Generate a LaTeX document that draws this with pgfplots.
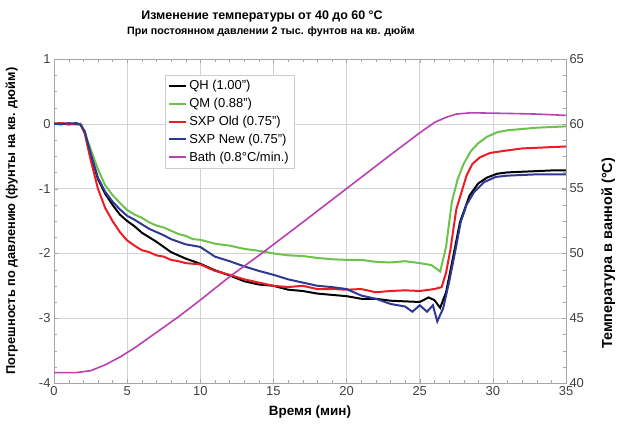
\documentclass[border=0pt]{standalone}
\usepackage{pgfplots}
\pgfplotsset{compat=1.18}
\usepackage{fontspec}
\setmainfont{Liberation Sans}
\definecolor{cqh}{RGB}{0,0,0}
\definecolor{cqm}{RGB}{108,194,74}
\definecolor{cold}{RGB}{237,28,36}
\definecolor{cnew}{RGB}{46,57,150}
\definecolor{cbath}{RGB}{185,64,176}
\begin{document}
\begin{tikzpicture}
\begin{axis}[name=main, scale only axis, width=512bp, height=324bp,
  xmin=0, xmax=35, ymin=-4, ymax=1,
  xtick={0,5,...,35}, ytick={-4,-3,...,1},
  minor x tick num=4, minor y tick num=3,
  grid=major, major grid style={gray!35, line width=0.6pt},
  axis line style={gray!70}, tick style={gray!70}, tick align=inside,
  major tick length=4bp, minor tick length=3bp,
  /pgf/number format/assume math mode=true,
  ticklabel style={font=\fontsize{13}{15}\selectfont, text=black!75},
  xlabel={\bfseries Время (мин)}, ylabel={\bfseries Погрешность по давлению (фунты на кв. дюйм)},
  xlabel style={font=\fontsize{13.5}{15}\selectfont, at={(rel axis cs:0.5,-0.058)}, anchor=north},
  ylabel style={font=\fontsize{12.8}{15}\selectfont, at={(rel axis cs:-0.064,0.5)}, anchor=south},
  legend style={at={(0.217,0.95)}, anchor=north west, draw=gray!40, font=\fontsize{13}{15}\selectfont, row sep=3bp, inner xsep=3bp, inner ysep=3bp},
  legend cell align=left,
]
\addplot[cqh, line width=2pt] coordinates {
(0,0) (0.5,0.01) (1,-0.01) (1.5,0.01) (1.8,-0.01) (2.1,-0.12) (2.5,-0.48) (3.0,-0.85) (3.5,-1.08) (4,-1.25) (4.5,-1.4) (5,-1.5) (5.5,-1.58) (6,-1.68) (6.5,-1.75) (7,-1.82) (7.5,-1.9) (8,-1.98) (8.5,-2.03) (9,-2.08) (10,-2.16) (11,-2.26) (12,-2.34) (13,-2.43) (14,-2.48) (15,-2.5) (16,-2.56) (17,-2.58) (18,-2.62) (19,-2.64) (20,-2.66) (21,-2.7) (22,-2.7) (23,-2.73) (24,-2.74) (25,-2.75) (25.6,-2.68) (26.0,-2.72) (26.4,-2.84) (26.8,-2.6) (27.3,-2.04) (27.75,-1.52) (28.4,-1.11) (29,-0.92) (29.6,-0.83) (30.3,-0.77) (31,-0.75) (32,-0.74) (33,-0.73) (34,-0.72) (35,-0.72)};
\addlegendentry{QH (1.00")}
\addplot[cqm, line width=2pt] coordinates {
(0,0) (0.5,0) (1,-0.01) (1.5,0) (1.9,-0.02) (2.2,-0.2) (2.6,-0.45) (3.0,-0.7) (3.5,-0.95) (4.0,-1.1) (4.5,-1.22) (5.0,-1.33) (5.5,-1.4) (6.0,-1.45) (6.5,-1.52) (7.0,-1.57) (7.5,-1.6) (8.0,-1.65) (8.5,-1.7) (9.0,-1.73) (9.5,-1.78) (10,-1.79) (11,-1.85) (12,-1.88) (13,-1.93) (14,-1.96) (15,-2.0) (16,-2.03) (17,-2.04) (18,-2.07) (19,-2.09) (20,-2.1) (21,-2.1) (22,-2.13) (23,-2.14) (24,-2.12) (25,-2.15) (25.8,-2.18) (26.4,-2.28) (26.8,-1.9) (27.2,-1.2) (27.6,-0.85) (28.0,-0.62) (28.5,-0.42) (29,-0.3) (29.6,-0.2) (30.3,-0.13) (31,-0.1) (32,-0.08) (33,-0.06) (34,-0.05) (35,-0.04)};
\addlegendentry{QM (0.88")}
\addplot[cold, line width=2pt] coordinates {
(0,0) (0.5,0.01) (1,0) (1.5,-0.01) (1.8,0) (2.1,-0.15) (2.5,-0.55) (3.0,-1.0) (3.5,-1.3) (4.0,-1.5) (4.5,-1.67) (5.0,-1.8) (5.5,-1.88) (6.0,-1.95) (6.5,-1.98) (7.0,-2.03) (7.5,-2.05) (8.0,-2.1) (8.5,-2.12) (9,-2.15) (10,-2.17) (11,-2.27) (12,-2.33) (13,-2.4) (14,-2.45) (15,-2.5) (16,-2.52) (17,-2.5) (18,-2.55) (19,-2.55) (20,-2.56) (21,-2.55) (22,-2.6) (23,-2.58) (24,-2.57) (25,-2.58) (26,-2.55) (26.5,-2.52) (26.8,-2.3) (27.1,-1.94) (27.5,-1.32) (28.2,-0.8) (28.6,-0.62) (29.1,-0.52) (29.8,-0.45) (30.7,-0.42) (32,-0.38) (33,-0.37) (34,-0.36) (35,-0.35)};
\addlegendentry{SXP Old (0.75")}
\addplot[cnew, line width=2pt] coordinates {
(0,0) (0.5,-0.01) (1,0.01) (1.5,0) (1.8,-0.01) (2.1,-0.12) (2.5,-0.45) (3.0,-0.83) (3.5,-1.05) (4,-1.2) (4.5,-1.32) (5,-1.42) (5.5,-1.48) (6,-1.55) (6.5,-1.62) (7,-1.67) (7.5,-1.72) (8,-1.78) (8.5,-1.82) (9,-1.86) (10,-1.9) (11,-2.05) (12,-2.12) (13,-2.2) (14,-2.27) (15,-2.33) (16,-2.4) (17,-2.45) (18,-2.5) (19,-2.52) (20,-2.55) (21,-2.65) (22,-2.7) (23,-2.78) (24,-2.82) (24.5,-2.9) (25.0,-2.8) (25.5,-2.9) (25.9,-2.8) (26.2,-3.05) (26.6,-2.85) (27.0,-2.45) (27.4,-2.0) (27.8,-1.52) (28.2,-1.25) (28.7,-1.06) (29.4,-0.9) (30.2,-0.82) (31,-0.8) (32,-0.79) (33,-0.78) (34,-0.78) (35,-0.78)};
\addlegendentry{SXP New (0.75")}
\addlegendimage{line legend, draw=cbath, line width=2pt}
\addlegendentry{Bath (0.8°C/min.)}
\end{axis}
\begin{axis}[scale only axis, width=512bp, height=324bp,
  xmin=0, xmax=35, ymin=40, ymax=65,
  axis x line=none, axis y line*=right,
  ytick={40,45,...,65},
  axis line style={gray!70}, tick style={gray!70}, tick align=inside, major tick length=4bp,
  /pgf/number format/assume math mode=true,
  ticklabel style={font=\fontsize{13}{15}\selectfont, text=black!75},
  ylabel={\bfseries Температура в ванной (°C)},
  ylabel style={font=\fontsize{14.5}{16}\selectfont, at={(rel axis cs:1.062,0.40)}, anchor=north},
]
\addplot[cbath, line width=1.6pt] coordinates {
(0,40.8) (1.5,40.8) (2.5,40.95) (3.5,41.4) (4.5,42.0) (5.5,42.7) (6.5,43.5) (7.5,44.3) (8.5,45.1) (10,46.4) (12,48.2) (14.2,50) (17,52.4) (20,55) (23,57.6) (25,59.3) (26,60.1) (26.8,60.5) (27.5,60.75) (28.5,60.85) (31,60.8) (33,60.75) (35,60.65)};
\end{axis}
\node[anchor=base] at ([xshift=-48bp, yshift=40bp]main.north) {\fontsize{12.5}{15}\selectfont\bfseries Изменение температуры от 40 до 60 °C};
\node[anchor=base] at ([xshift=-39bp, yshift=25bp]main.north) {\fontsize{10.7}{13}\selectfont\bfseries При постоянном давлении 2 тыс. фунтов на кв. дюйм};
\path ([xshift=-54bp, yshift=-58bp]main.south west) ([xshift=54bp, yshift=59bp]main.north east);
\end{tikzpicture}
\end{document}
